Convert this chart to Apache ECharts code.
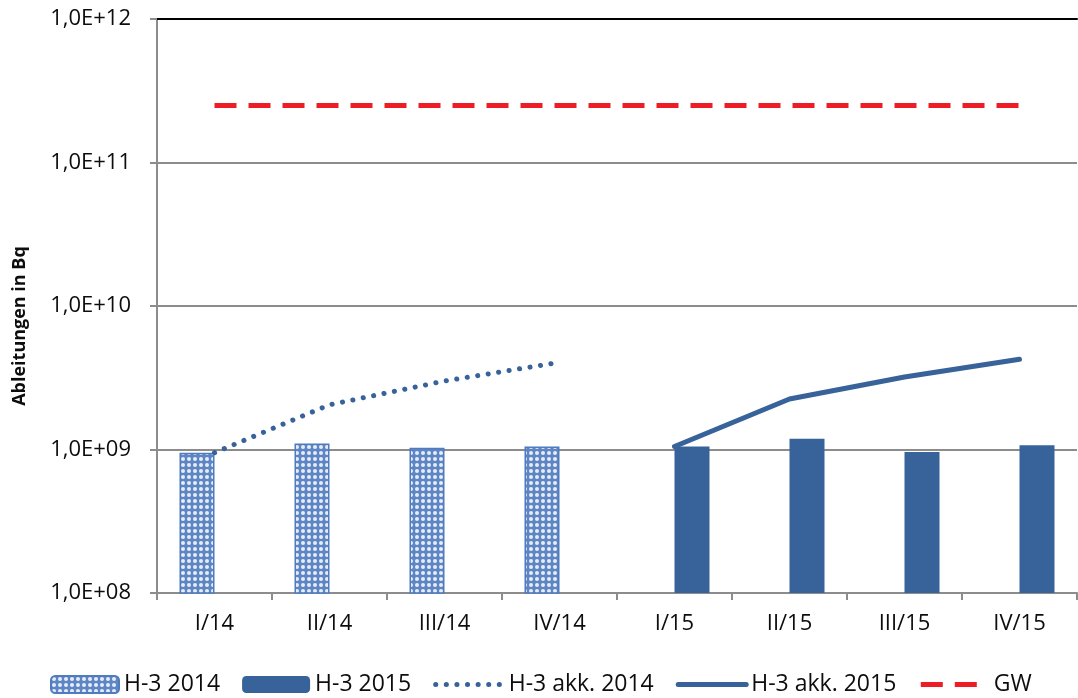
<!DOCTYPE html>
<html lang="de">
<head>
    <meta charset="UTF-8">
    <script type="text/javascript" src="https://cdn.jsdelivr.net/npm/echarts@6/dist/echarts.min.js"></script>
    <title>Ableitungen H-3</title>
    <style>
        html, body { margin: 0; padding: 0; background: #fff; }
        #chart { width: 1078px; height: 698px; }
    </style>
</head>
<body>
<div id="chart"></div>

<script>
    // quarters
    var categories = ['I/14', 'II/14', 'III/14', 'IV/14', 'I/15', 'II/15', 'III/15', 'IV/15'];
    // quarterly values (Bq)
    var h3_2014 = [0.95e9, 1.10e9, 1.03e9, 1.05e9, '-', '-', '-', '-'];
    var h3_2015 = ['-', '-', '-', '-', 1.05e9, 1.19e9, 0.96e9, 1.07e9];
    // accumulated
    var akk_2014 = [0.95e9, 2.05e9, 3.0e9, 4.05e9, '-', '-', '-', '-'];
    var akk_2015 = ['-', '-', '-', '-', 1.05e9, 2.25e9, 3.2e9, 4.25e9];
    // limit value
    var gw = [2.5e11, 2.5e11, 2.5e11, 2.5e11, 2.5e11, 2.5e11, 2.5e11, 2.5e11];

    var font = '"Open Sans", sans-serif';
    var txt = '#0d0d0d';

    // lattice fill for the 2014 bars (blue with light holes)
    function makePattern() {
        var c = document.createElement('canvas');
        c.width = 6; c.height = 6;
        var ctx = c.getContext('2d');
        ctx.fillStyle = '#5f86c4';
        ctx.fillRect(0, 0, 6, 6);
        ctx.fillStyle = '#e6edf8';
        ctx.beginPath();
        ctx.arc(3, 3, 2.0, 0, Math.PI * 2);
        ctx.fill();
        return c;
    }

    var noSymbol = { color: 'rgba(0,0,0,0)', borderWidth: 0 };

    var mCharts = echarts.init(document.getElementById('chart'));

    var option = {
        animation: false,
        textStyle: { fontFamily: font },
        grid: { left: 157, right: 1, top: 19, bottom: 105, containLabel: false },
        legend: {
            bottom: 2,
            left: 50,
            padding: 0,
            itemWidth: 68,
            itemHeight: 17,
            itemGap: 22,
            textStyle: { fontSize: 23, color: txt, fontFamily: font },
            data: [
                { name: 'H-3 2014' },
                { name: 'H-3 2015' },
                { name: 'H-3 akk. 2014', itemStyle: noSymbol, lineStyle: { width: 5 } },
                { name: 'H-3 akk. 2015', itemStyle: noSymbol, lineStyle: { width: 5 } },
                { name: 'GW', itemStyle: noSymbol, lineStyle: { width: 5 } }
            ]
        },
        xAxis: [
            {
                type: 'category',
                data: categories,
                axisLine: { lineStyle: { color: '#8c8c8c', width: 2 } },
                axisTick: { show: true, length: 7, lineStyle: { color: '#8c8c8c', width: 2 } },
                axisLabel: { fontSize: 22, color: txt, margin: 20, fontFamily: font }
            },
            {
                type: 'category',
                position: 'top',
                data: categories,
                axisLine: { lineStyle: { color: '#000', width: 2 } },
                axisTick: { show: false },
                axisLabel: { show: false }
            }
        ],
        yAxis: {
            type: 'log',
            logBase: 10,
            min: 1e8,
            max: 1e12,
            name: 'Ableitungen in Bq',
            nameLocation: 'middle',
            nameGap: 128,
            nameTextStyle: {
                fontSize: 18, fontWeight: 'bold', color: txt, fontFamily: font,
                padding: [0, 40, 0, 0]
            },
            axisLine: { show: true, lineStyle: { color: '#8c8c8c', width: 2 } },
            axisTick: { show: true, length: 7, lineStyle: { color: '#8c8c8c', width: 2 } },
            splitLine: { lineStyle: { color: '#8c8c8c', width: 2 } },
            axisLabel: {
                fontSize: 22,
                color: txt,
                margin: 26,
                fontFamily: font,
                formatter: function (v) {
                    var e = Math.round(Math.log10(v));
                    return '1,0E+' + (e < 10 ? '0' + e : e);
                }
            }
        },
        series: [
            {
                name: 'H-3 2014',
                type: 'bar',
                barWidth: 35,
                barGap: '0%',
                itemStyle: {
                    color: { image: makePattern(), repeat: 'repeat' },
                    borderColor: '#4f7bbf',
                    borderWidth: 1.5
                },
                data: h3_2014
            },
            {
                name: 'H-3 2015',
                type: 'bar',
                barWidth: 35,
                barGap: '0%',
                itemStyle: { color: '#37639a' },
                data: h3_2015
            },
            {
                name: 'H-3 akk. 2014',
                type: 'line',
                symbol: 'none',
                lineStyle: { color: '#37639a', width: 5, type: [0.1, 10.5], cap: 'round' },
                itemStyle: { color: '#37639a' },
                data: akk_2014
            },
            {
                name: 'H-3 akk. 2015',
                type: 'line',
                symbol: 'none',
                lineStyle: { color: '#37639a', width: 5, cap: 'round' },
                itemStyle: { color: '#37639a' },
                data: akk_2015
            },
            {
                name: 'GW',
                type: 'line',
                symbol: 'none',
                lineStyle: { color: '#ee1c25', width: 5, type: [22, 12] },
                itemStyle: { color: '#ee1c25' },
                data: gw
            }
        ]
    };

    mCharts.setOption(option);
</script>
</body>
</html>
